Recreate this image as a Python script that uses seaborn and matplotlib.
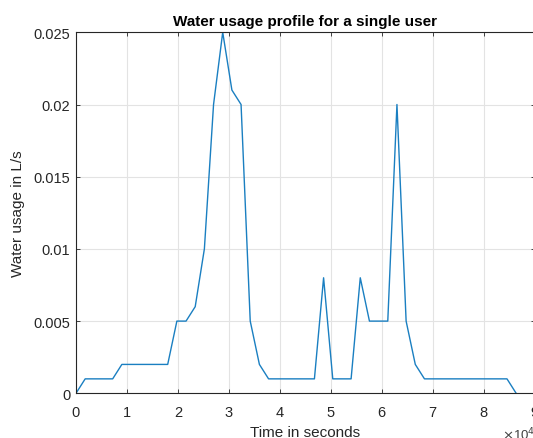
import numpy as np
import pandas as pd
import matplotlib
matplotlib.use("Agg")
import matplotlib.pyplot as plt
import seaborn as sns

# Data: time in seconds (half-hour steps) and water usage in L/s
time_s = [0, 1800, 3600, 5400, 7200, 9000, 10800, 12600, 14400, 16200,
          18000, 19800, 21600, 23400, 25200, 27000, 28800, 30600, 32400, 34200,
          36000, 37800, 39600, 41400, 43200, 45000, 46800, 48600, 50400, 52200,
          54000, 55800, 57600, 59400, 61200, 63000, 64800, 66600, 68400, 70200,
          72000, 73800, 75600, 77400, 79200, 81000, 82800, 84600, 86400]
usage = [0, 0.001, 0.001, 0.001, 0.001, 0.002, 0.002, 0.002, 0.002, 0.002,
         0.002, 0.005, 0.005, 0.006, 0.010, 0.020, 0.025, 0.021, 0.020, 0.005,
         0.002, 0.001, 0.001, 0.001, 0.001, 0.001, 0.001, 0.008, 0.001, 0.001,
         0.001, 0.008, 0.005, 0.005, 0.005, 0.020, 0.005, 0.002, 0.001, 0.001,
         0.001, 0.001, 0.001, 0.001, 0.001, 0.001, 0.001, 0.001, 0]

x_ticks = [0, 10000, 20000, 30000, 40000, 50000, 60000, 70000, 80000, 90000]
x_tick_labels = ["0", "1", "2", "3", "4", "5", "6", "7", "8", "9"]
y_ticks = [0, 0.005, 0.01, 0.015, 0.02, 0.025]
y_tick_labels = ["0", "0.005", "0.01", "0.015", "0.02", "0.025"]

title = "Water usage profile for a single user"
xlabel = "Time in seconds"
ylabel = "Water usage in L/s"

sns.set_theme(style="white")
plt.rcParams["font.family"] = ["Liberation Sans", "DejaVu Sans"]

W, H = 533, 439
fig = plt.figure(figsize=(W / 100, H / 100), dpi=100)
fig.patch.set_facecolor("white")
left, right, top, bottom = 76, 534.5, 33.3, 394.3
ax = fig.add_axes([left / W, 1 - bottom / H, (right - left) / W, (bottom - top) / H])

df = pd.DataFrame({"t": time_s, "u": usage})
sns.lineplot(data=df, x="t", y="u", ax=ax, color="#1a7fc1", linewidth=1.0,
             estimator=None, sort=False)

ax.set_xlim(0, 90000)
ax.set_ylim(0, 0.025)
ax.set_xticks(x_ticks)
ax.set_xticklabels(x_tick_labels)
ax.set_yticks(y_ticks)
ax.set_yticklabels(y_tick_labels)

ax.grid(True, color="#e3e3e3", linewidth=0.8)
ax.set_axisbelow(True)
for s in ax.spines.values():
    s.set_visible(True)
    s.set_color("#262626")
    s.set_linewidth(0.8)

ax.tick_params(axis="both", which="both", direction="in", length=3, width=0.6,
               color="#262626", labelsize=10.5, labelcolor="#262626",
               top=True, right=True, bottom=True, left=True)
ax.tick_params(axis="x", pad=8.5)
ax.tick_params(axis="y", pad=4)

ax.set_title(title, fontsize=11, fontweight="bold", color="#000000", pad=5)
ax.set_xlabel(xlabel, fontsize=11, color="#262626", labelpad=4.5)
ax.set_ylabel(ylabel, fontsize=11, color="#262626", labelpad=6)

fig.text(502 / W, 1 - 435 / H, r"$\times$10$^4$", fontsize=9.5, color="#404040",
         ha="left", va="center")

fig.savefig("out.png", dpi=100, facecolor="white")
